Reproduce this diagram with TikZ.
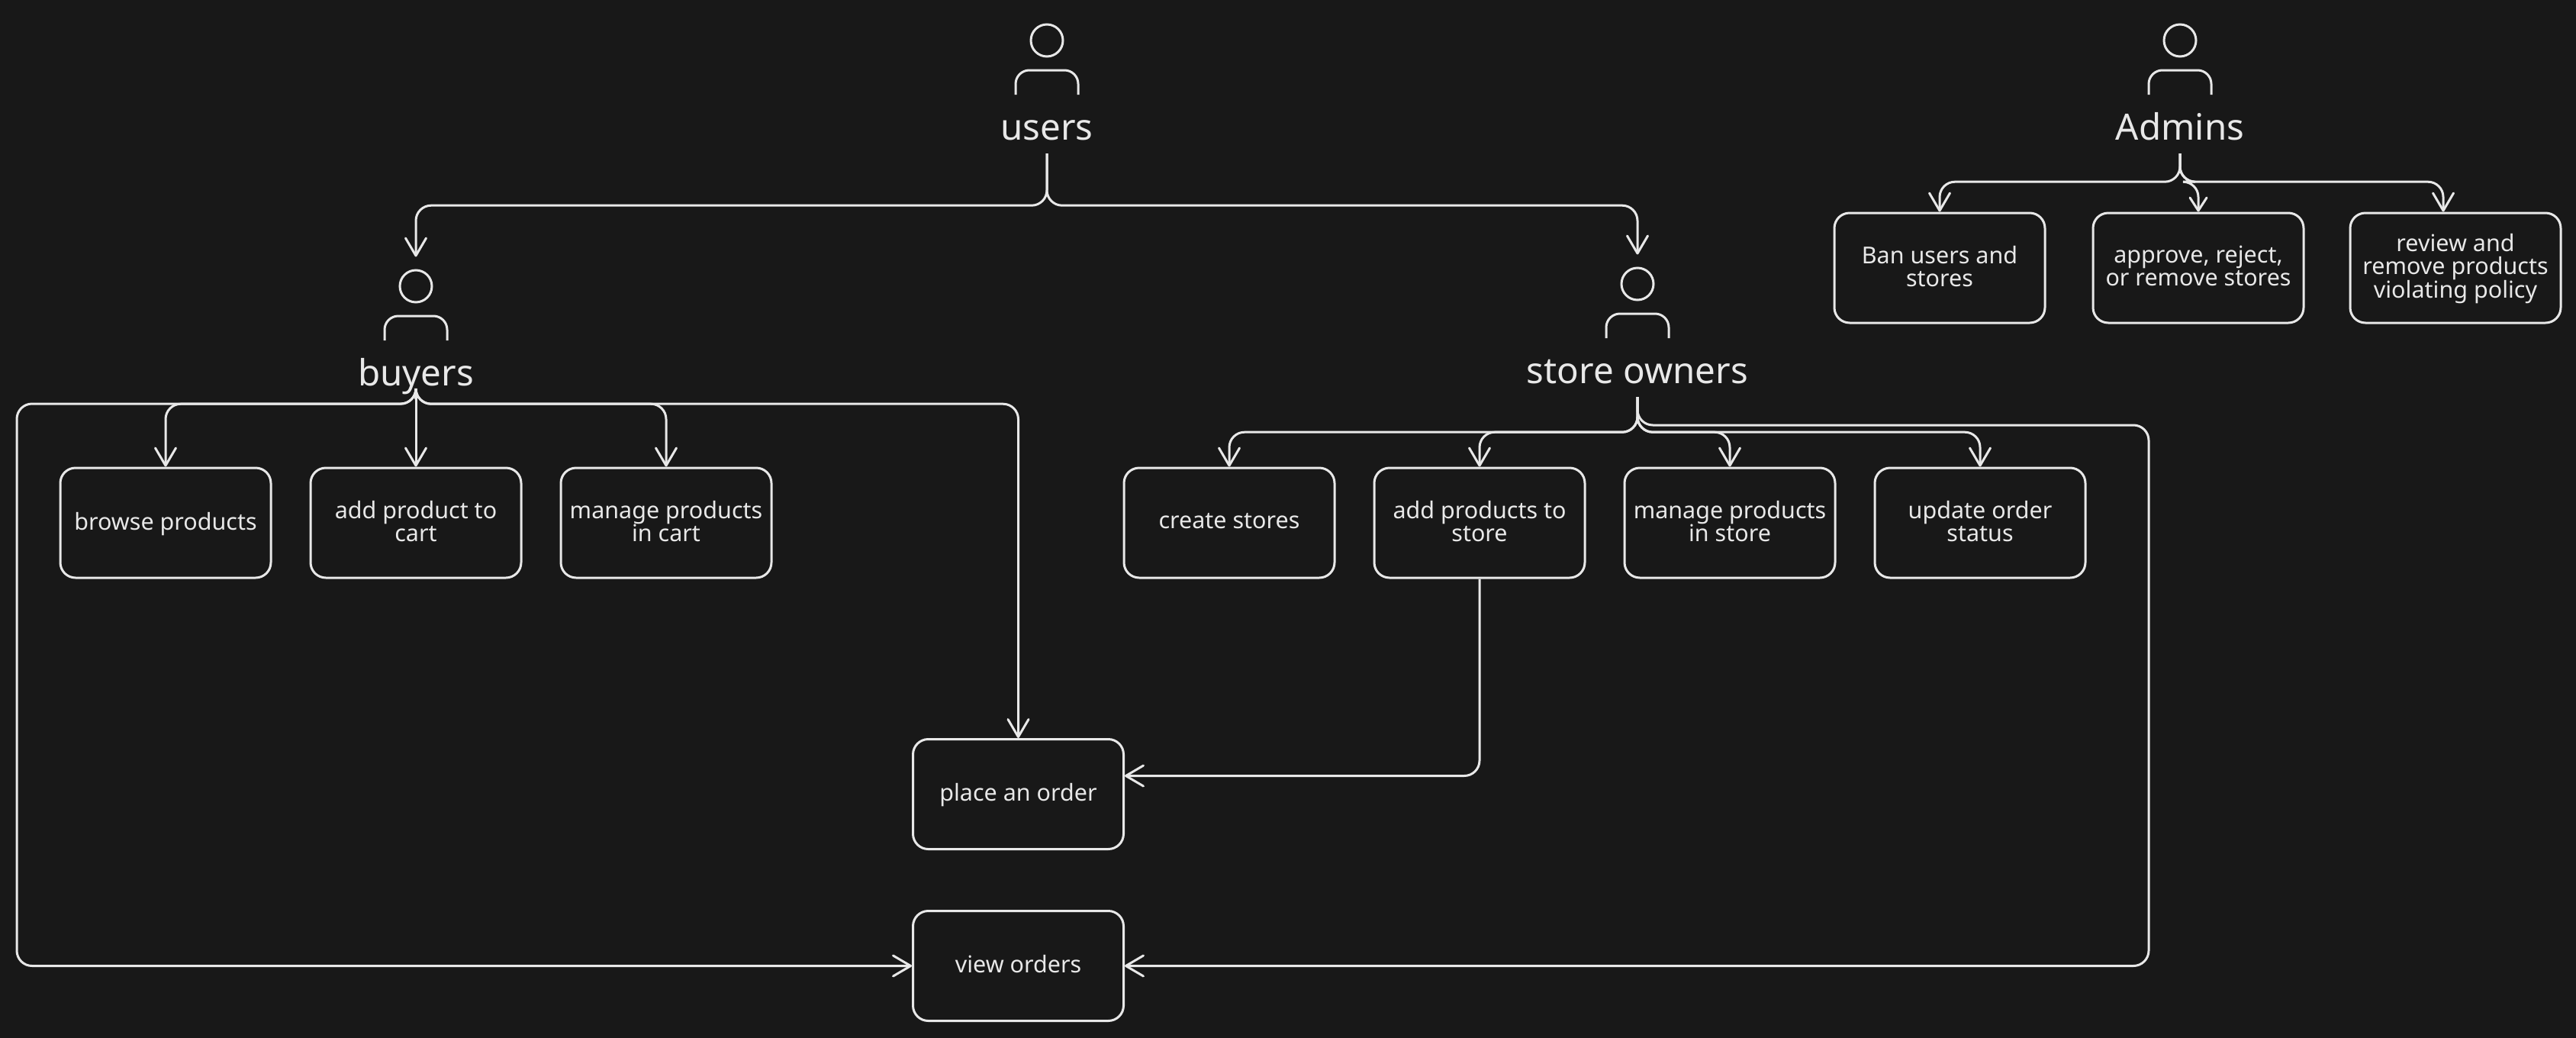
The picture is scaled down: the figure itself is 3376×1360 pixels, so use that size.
\documentclass[tikz,border=0pt]{standalone}
\usepackage{fontspec}
\setmainfont{Noto Sans}
\usetikzlibrary{arrows.meta}

\definecolor{pagebg}{HTML}{181818}
\definecolor{inkline}{HTML}{E8E8E8}

\tikzset{
    wire/.style = {inkline, line width = 3pt, rounded corners = 20pt,
        -{Straight Barb[length = 23pt, width = 27pt, round]}},
    taskbox/.style = {draw = inkline, line width = 3pt, rounded corners = 20pt, text = inkline,
        minimum width = 276pt, minimum height = 144pt, inner sep = 0pt, align = center,
        text depth = 5pt, font = \fontsize{30.5}{30}\selectfont},
    rolelabel/.style = {text = inkline, anchor = base, text depth = 0pt, inner xsep = 0pt,
        inner ysep = 18pt, font = \fontsize{47.5}{50}\selectfont},
    rolehead/.style = {draw = inkline, line width = 3pt, circle, minimum size = 42pt, inner sep = 0pt}
}

\begin{document}
\begin{tikzpicture}[x = 1pt, y = -1pt]

    \fill[pagebg] (0,0) rectangle (3376,1360);
    \useasboundingbox (0,0) rectangle (3376,1360);

    \foreach \NAME/\X/\Y/\TXT in {users/1372/183/users, buyers/545/505/buyers,
            storeOwners/2146/502/store owners, admins/2857/183/Admins}{
        \node[rolelabel] (\NAME) at (\X,\Y) {\TXT};
        \node[rolehead] (\NAME Head) at (\X,\Y-130) {};
        \draw[inkline, line width = 3pt, rounded corners = 18pt]
            (\X-41,\Y-59) -- (\X-41,\Y-91) -- (\X+41,\Y-91) -- (\X+41,\Y-59);
    }

    \foreach \NAME/\X/\TXT in {browse/217/browse products, addCart/545/add product to\\cart,
            manageCart/873/manage products\\in cart, createStores/1611/create stores,
            addProducts/1939/add products to\\store, manageStore/2267/manage products\\in store,
            updateStatus/2595/update order\\status}{
        \node[taskbox] (\NAME) at (\X,685) {\TXT};
    }

    \foreach \NAME/\X/\TXT in {banUsers/2542/Ban users and\\stores,
            approveStores/2881/{approve, reject,\\or remove stores},
            reviewProducts/3218/review and\\remove products\\violating policy}{
        \node[taskbox] (\NAME) at (\X,351) {\TXT};
    }

    \node[taskbox] (placeOrder) at (1334.5,1040.5) {place an order};
    \node[taskbox] (viewOrders) at (1334.5,1265.5) {view orders};

    \coordinate (buyersRail) at (22,529);
    \coordinate (storeRail) at (2816,557);

    \foreach \TARGET in {buyersHead, storeOwnersHead}{
        \draw[wire, shorten > = 16pt] (users.south) -- ++(0,68) -| (\TARGET.north);
    }

    \foreach \TARGET in {browse, manageCart, placeOrder}{
        \draw[wire] (buyers.south) -- ++(0,6) -| (\TARGET.north);
    }
    \draw[wire] (buyers.south) -- (addCart.north);
    \draw[wire] (buyers.south) |- (buyersRail) |- (viewOrders.west);

    \foreach \TARGET in {createStores, addProducts, manageStore, updateStatus}{
        \draw[wire] (storeOwners.south) -- ++(0,46) -| (\TARGET.north);
    }
    \draw[wire] (storeOwners.south) |- (storeRail) |- (viewOrders.east);

    \draw[wire] (addProducts.south) |- ([yshift = 24pt]placeOrder.east);

    \draw[wire] (admins.south) -- ++(0,37) -| (banUsers.north);
    \draw[wire, -{Straight Barb[length = 17pt, width = 22pt, round]}]
        (admins.south) -- ++(0,37) -| (approveStores.north);
    \draw[wire] (admins.south) -- ++(0,37) -| ([xshift = -16pt]reviewProducts.north);

\end{tikzpicture}
\end{document}
